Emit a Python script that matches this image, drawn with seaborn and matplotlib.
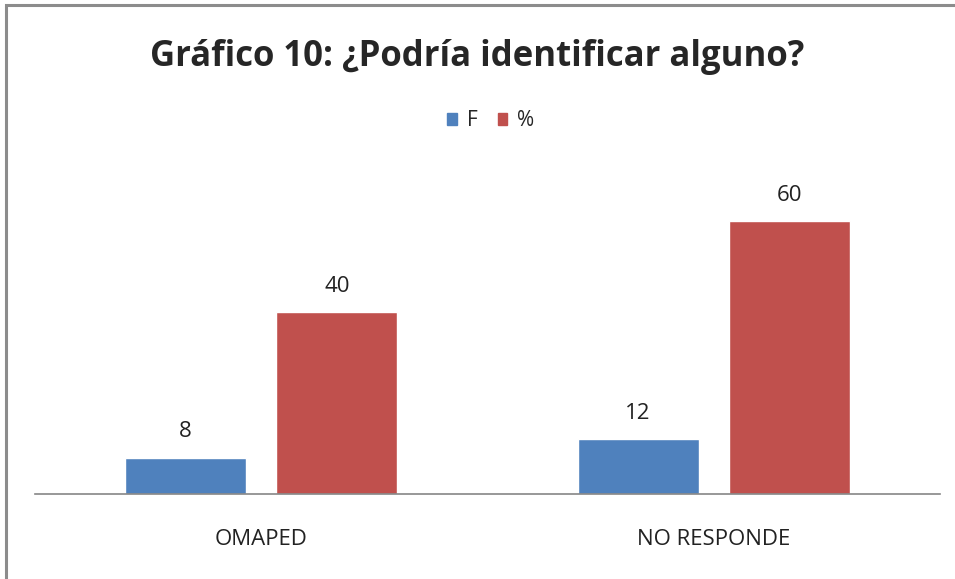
import pandas as pd
import seaborn as sns
import matplotlib.pyplot as plt
from matplotlib.patches import Rectangle

categories = ['OMAPED', 'NO RESPONDE']
series_f = [8, 12]
series_pct = [40, 60]
series_names = ['F', '%']

df = pd.DataFrame({
    'categoria': categories * 2,
    'serie': [series_names[0]] * 2 + [series_names[1]] * 2,
    'valor': series_f + series_pct,
})

sns.set_style('white')
plt.rcParams['font.family'] = ['Open Sans', 'DejaVu Sans']

fig = plt.figure(figsize=(9.55, 5.79), dpi=100)
ax = fig.add_axes([35 / 955, 1 - 494 / 579, 905 / 955, (494 - 175.5) / 579])

sns.barplot(data=df, x='categoria', y='valor', hue='serie',
            palette=['#4F81BD', '#C0504D'], width=0.668, gap=0.2,
            saturation=1, ax=ax, legend=False)

for cont in ax.containers:
    ax.bar_label(cont, fmt='%d', padding=11, fontsize=16, color='#222222')

ax.set_xlim(-0.5, 1.5)
ax.set_ylim(0, 70)
ax.set_xlabel('')
ax.set_ylabel('')
ax.set_yticks([])
ax.tick_params(axis='x', length=0, labelsize=16, pad=25.5, colors='#222222')
for s in ['top', 'right', 'left']:
    ax.spines[s].set_visible(False)
ax.spines['bottom'].set_color('#868686')
ax.spines['bottom'].set_linewidth(1.2)

fig.text(0.5, 1 - 66 / 579, 'Gráfico 10: ¿Podría identificar alguno?',
         ha='center', va='baseline', fontsize=25, fontweight='bold')

# legend
handles = [Rectangle((0, 0), 1, 1, color=c) for c in ['#4F81BD', '#C0504D']]
fig.legend(handles, series_names, loc='center', bbox_to_anchor=(491 / 955, 1 - 121 / 579),
           ncol=2, frameon=False, fontsize=15, handlelength=0.45, handleheight=0.45,
           handletextpad=0.5, columnspacing=0.95)

# chart border (top and left visible)
fig.patches.append(Rectangle((6 / 955, -0.1), 1.2, 1 - 5 / 579 + 0.1,
                             transform=fig.transFigure, fill=False,
                             edgecolor='#8c8c8c', linewidth=2.2))

fig.savefig('out.png', dpi=100)
